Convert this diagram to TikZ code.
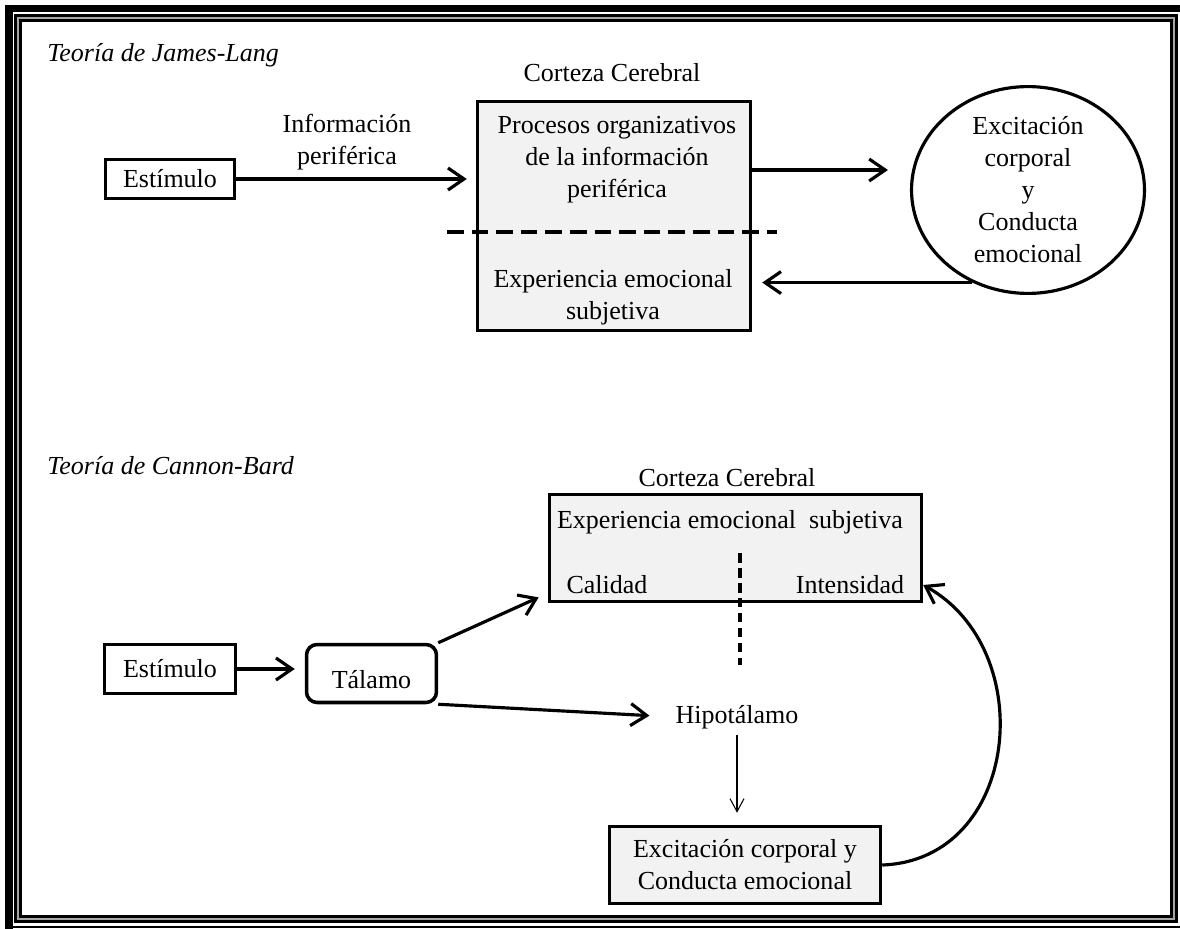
\documentclass[tikz,border=0pt]{standalone}
\usepackage{fontspec}
\setmainfont{Liberation Serif}
\usepackage{tikz}
\usetikzlibrary{arrows.meta,positioning,shapes.geometric}
\definecolor{boxgray}{HTML}{F2F2F2}
\tikzset{box/.style={draw=black,line width=2pt,align=center,inner sep=2pt},
 graybox/.style={box,fill=boxgray},
 arr/.style={-{Straight Barb[length=3.2mm,width=4.4mm]},line width=1.8pt},
 thinarr/.style={-{Straight Barb[length=2.6mm,width=2.8mm]},line width=0.6pt},
 dline/.style={line width=2pt,dash pattern=on 9.5pt off 4.5pt},
 note/.style={align=center,inner sep=3pt}}

\begin{document}
\begin{tikzpicture}[x=0.02cm,y=-0.02cm,font=\fontsize{14.8}{18.2}\selectfont]
\fill[white] (0,0) rectangle (1180,929);
\useasboundingbox (0,0) rectangle (1180,929);
% frame
\fill[black] (5,5) rectangle (1180,12);
\fill[black] (5,5) rectangle (13,929);
\fill[black] (5,926) rectangle (1180,928);
\draw[line width=4.5pt] (18,18) rectangle (1174,919);
\draw[gray!70,line width=1.2pt] (18,18) rectangle (1174,919);

% James-Lang
\node[anchor=base west,inner sep=0pt,font=\fontsize{14.8}{18.2}\selectfont\itshape] (tjl) at (47,62) {Teoría de James-Lang};
\node[box,minimum width=2.58cm,minimum height=0.78cm] (est1) at (170,179) {Estímulo};
\node[graybox,minimum width=5.46cm,minimum height=4.58cm] (cort1) at (614,216) {};
\node[anchor=base,inner sep=0pt] (ctx1) at (612,82) {Corteza Cerebral};
\node[note] (proc) at (617,160) {Procesos organizativos\\de la información\\periférica};
\node[note] (expe1) at (613,297) {Experiencia emocional\\subjetiva};
\node[note] (info) at (347,142) {Información\\periférica};
\node[ellipse,draw=black,line width=1.8pt,minimum width=4.66cm,minimum height=4.08cm,align=center,inner sep=0pt] (exc1) at (1028,190) {Excitación\\corporal\\y\\Conducta\\emocional};
\draw[dline] (447,232) -- (777,232);
\draw[arr,shorten >=0.18cm] (est1.east) -- (est1.east -| cort1.west);
\draw[arr,shorten >=0.44cm] ([yshift=0.92cm]cort1.east) -- ([yshift=0.92cm]cort1.east -| exc1.west);
\draw[arr,shorten >=0.2cm] (exc1.-121) -- (exc1.-121 -| cort1.east);

% Cannon-Bard
\node[anchor=base west,inner sep=0pt,font=\fontsize{14.8}{18.2}\selectfont\itshape] (tcb) at (47,474) {Teoría de Cannon-Bard};
\node[box,minimum width=2.62cm,minimum height=0.98cm] (est2) at (170,669) {Estímulo};
\node[box,rounded corners=6pt,minimum width=2.6cm,minimum height=1.16cm,text height=0.6cm,text depth=0cm] (tal) at (371.5,673.5) {Tálamo};
\node[graybox,minimum width=7.44cm,minimum height=2.14cm] (cort2) at (735.5,548) {};
\node[anchor=base,inner sep=0pt] (ctx2) at (727,486) {Corteza Cerebral};
\node[note] (expe2) at (730,522) {Experiencia emocional\ \ subjetiva};
\node[note] (cal) at (607,585) {Calidad};
\node[note] (inten) at (850,585) {Intensidad};
\draw[line width=2pt,dash pattern=on 5.5pt off 3pt] (740,553) -- (740,665);
\node[anchor=base] (hipo) at (737,723) {Hipotálamo};
\node[graybox,minimum width=5.42cm,minimum height=1.54cm] (exc2) at (745,865) {Excitación corporal y\\Conducta emocional};
\draw[arr,shorten >=0.2cm] (est2.east) -- (est2.east -| tal.west);
\draw[arr,shorten >=0.2cm] (tal.north east) -- ([yshift=0.2cm]cort2.south west);
\draw[arr,shorten >=0.4cm] (tal.south east) -- (hipo.west);
\draw[thinarr,shorten >=0.24cm] (hipo.south) -- (hipo.south |- exc2.north);
\draw[arr] (exc2.east) .. controls (1020,860) and (1040,650) .. (cort2.east |- inten);
\end{tikzpicture}
\end{document}
